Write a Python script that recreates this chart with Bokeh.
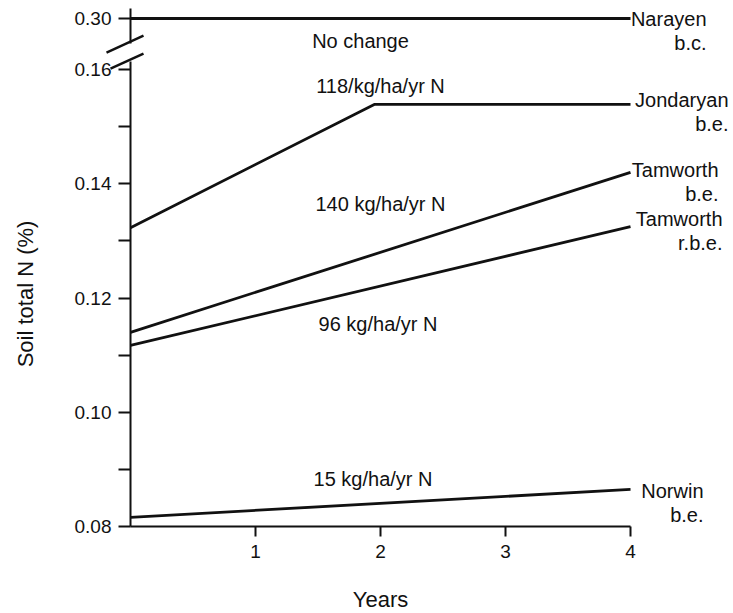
from bokeh.plotting import figure
from bokeh.models import Range1d, LinearAxis, FixedTicker, PrintfTickFormatter
from bokeh.embed import file_html
from bokeh.resources import INLINE
from bokeh.core.properties import value

# ---------------- data ----------------
narayen_years = [0, 4]
narayen_n = [0.30, 0.30]
jondaryan_years = [0, 1.95, 4]
jondaryan_n = [0.1323, 0.1539, 0.1539]
tamworth_be_years = [0, 4]
tamworth_be_n = [0.1140, 0.1420]
tamworth_rbe_years = [0, 4]
tamworth_rbe_n = [0.1117, 0.1325]
norwin_years = [0, 4]
norwin_n = [0.0816, 0.0865]

x_ticks = [1, 2, 3, 4]
y_ticks_lower = [0.08, 0.10, 0.12, 0.14, 0.16]
y_minor_lower = [0.09, 0.11, 0.13, 0.15]
y_ticks_upper = [0.30]

rate_labels = ["118/kg/ha/yr N", "140 kg/ha/yr N", "96 kg/ha/yr N", "15 kg/ha/yr N"]
no_change_label = "No change"

site_names = ["Narayen", "Jondaryan", "Tamworth", "Tamworth", "Norwin"]
site_soils = ["b.c.", "b.e.", "b.e.", "r.b.e.", "b.e."]

# ---------------- layout constants (page pixels) ----------------
W, H = 733, 613
FONT_NAME = "Liberation Sans"
FONT = value(FONT_NAME)
INK = "#111111"
PX = 5712.0            # pixels per unit of N on both y ranges
X_PX = 125.0           # pixels per year
X0_PX = 130            # page x of year 0
Y008_PX = 526          # page y of 0.08
Y030_PX = 18           # page y of 0.30 (above the break)

lower_range = Range1d(0.08 - (H - Y008_PX) / PX, 0.08 + Y008_PX / PX)
upper_range = Range1d(0.30 - (H - Y030_PX) / PX, 0.30 + Y030_PX / PX)
x_range = Range1d(-X0_PX / X_PX, (W - X0_PX) / X_PX)

p = figure(width=W, height=H, x_range=x_range, y_range=lower_range,
           output_backend="svg", toolbar_location=None,
           y_axis_location=None, x_axis_location=None,
           min_border_left=0, min_border_right=0, min_border_top=0,
           min_border_bottom=0)
p.extra_y_ranges = {"upper": upper_range}
p.xgrid.visible = False
p.ygrid.visible = False
p.outline_line_color = None
p.background_fill_color = "white"
p.border_fill_color = "white"

# ---------------- x axis ----------------
xa = LinearAxis(fixed_location=0.08, bounds=(0, 4),
                ticker=FixedTicker(ticks=x_ticks))
xa.minor_tick_line_color = None
xa.major_tick_out = 10
xa.major_tick_in = 0
xa.axis_line_width = 2
xa.major_tick_line_width = 2
xa.axis_line_color = INK
xa.major_tick_line_color = INK
xa.major_label_text_font = FONT_NAME
xa.major_label_text_font_size = "19px"
xa.major_label_text_color = INK
xa.major_label_standoff = 8
xa.axis_label = "Years"
xa.axis_label_text_font = FONT_NAME
xa.axis_label_text_font_size = "22px"
xa.axis_label_text_font_style = "normal"
xa.axis_label_text_color = INK
xa.axis_label_standoff = 26
p.add_layout(xa, "below")

# ---------------- y axes (broken scale) ----------------
lower_top = 0.16 + 8 / PX
ya = LinearAxis(fixed_location=0, bounds=(0.08, lower_top),
                ticker=FixedTicker(ticks=y_ticks_lower, minor_ticks=y_minor_lower),
                formatter=PrintfTickFormatter(format="%.2f"))
ya.axis_label = "Soil total N (%)"
ya.axis_label_text_font = FONT_NAME
ya.axis_label_text_font_size = "22px"
ya.axis_label_text_font_style = "normal"
ya.axis_label_text_color = INK
ya.axis_label_standoff = 34

ya2 = LinearAxis(fixed_location=0, y_range_name="upper",
                 bounds=(0.30 - 25 / PX, 0.30 + 10 / PX),
                 ticker=FixedTicker(ticks=y_ticks_upper),
                 formatter=PrintfTickFormatter(format="%.2f"))
for ax in (ya, ya2):
    ax.major_tick_out = 12
    ax.major_tick_in = 0
    ax.minor_tick_out = 12
    ax.minor_tick_in = 0
    ax.axis_line_width = 2
    ax.major_tick_line_width = 2
    ax.minor_tick_line_width = 2
    ax.axis_line_color = INK
    ax.major_tick_line_color = INK
    ax.minor_tick_line_color = INK
    ax.major_label_text_font = FONT_NAME
    ax.major_label_text_font_size = "19px"
    ax.major_label_text_color = INK
    ax.major_label_standoff = 7
    p.add_layout(ax, "left")

# break marks on the y axis
p.segment(x0=[-24 / X_PX, -20 / X_PX], y0=[0.16 + 17 / PX, 0.16 + 1 / PX],
          x1=[13 / X_PX, 13 / X_PX], y1=[0.16 + 34 / PX, 0.16 + 16 / PX],
          line_color=INK, line_width=2.5)

# ---------------- series ----------------
LW = 2.8
p.line(narayen_years, narayen_n, y_range_name="upper", line_color=INK, line_width=LW)
p.line(jondaryan_years, jondaryan_n, line_color=INK, line_width=LW)
p.line(tamworth_be_years, tamworth_be_n, line_color=INK, line_width=LW)
p.line(tamworth_rbe_years, tamworth_rbe_n, line_color=INK, line_width=LW)
p.line(norwin_years, norwin_n, line_color=INK, line_width=LW)

# ---------------- rate annotations ----------------
p.text(x=[1.84], y=[0.30 - 22 / PX], text=[no_change_label], y_range_name="upper",
       text_font=FONT, text_font_size="20px", text_color=INK,
       text_align="center", text_baseline="middle")
rate_x = [2.0, 2.0, 1.98, 1.94]
rate_y = [0.1572, 0.1365, 0.1155, 0.0884]
p.text(x=rate_x, y=rate_y, text=rate_labels,
       text_font=FONT, text_font_size="20px", text_color=INK,
       text_align="center", text_baseline="middle")

# ---------------- site labels at line ends ----------------
site_end_y = [narayen_n[-1], jondaryan_n[-1], tamworth_be_n[-1], tamworth_rbe_n[-1], norwin_n[-1]]
site_right_px = [706, 728, 718, 722, 703]
site_dy = [0, -4, -2, -8, 2]
for i in range(len(site_names)):
    rng = "upper" if i == 0 else "default"
    xr = (site_right_px[i] - X0_PX) / X_PX
    for txt, off in ((site_names[i], site_dy[i]), (site_soils[i], site_dy[i] + 24)):
        p.text(x=[xr], y=[site_end_y[i]], text=[txt], y_range_name=rng,
               y_offset=off, text_font=FONT, text_font_size="20px",
               text_color=INK, text_align="right", text_baseline="middle")

open("out.html", "w").write(file_html(p, INLINE))
